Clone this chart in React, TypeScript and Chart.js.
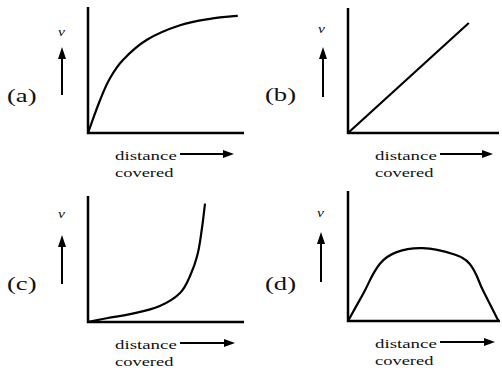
import React, { useEffect, useRef } from "react";
import { Chart, registerables } from "chart.js";

Chart.register(...registerables);

// Panel (a): velocity rising and saturating
const aX = [0, 0.77, 1.41, 2.24, 3.78, 5.9, 8.0, 9.6];
const aY = [0, 2.6, 4.35, 5.8, 7.4, 8.55, 9.1, 9.3];
// Panel (b): straight line
const bX = [0, 8.0];
const bY = [0, 8.8];
// Panel (c): rising steeply at the end
const cX = [0, 1.2, 2.7, 4.6, 5.9, 6.54, 7.0, 7.3, 7.5];
const cY = [0, 0.3, 0.63, 1.27, 2.3, 3.65, 5.25, 7.4, 9.4];
// Panel (d): rise, plateau, fall
const dX = [0, 1.0, 2.1, 3.2, 4.9, 6.9, 8.0, 8.9, 9.9];
const dY = [0, 2.1, 4.4, 5.3, 5.6, 5.15, 4.4, 2.3, 0];

const panelLabels = ["(a)", "(b)", "(c)", "(d)"];
const axisYLabel = "v";
const axisXLabel1 = "distance";
const axisXLabel2 = "covered";

type Box = { L: number; T: number; R: number; B: number };

const axesPlugin = {
  id: "axesLines",
  afterDatasetsDraw(chart: any) {
    const { ctx, chartArea } = chart;
    const xs = chart.scales.x;
    const ys = chart.scales.y;
    const x0 = xs.getPixelForValue(0);
    const y0 = ys.getPixelForValue(0);
    ctx.save();
    ctx.strokeStyle = "#000";
    ctx.lineWidth = 2.5;
    ctx.beginPath();
    ctx.moveTo(x0, chartArea.top);
    ctx.lineTo(x0, y0);
    ctx.lineTo(chartArea.right, y0);
    ctx.stroke();
    ctx.restore();
  },
};

function Panel({ box, xs, ys }: { box: Box; xs: number[]; ys: number[] }) {
  const ref = useRef<HTMLCanvasElement | null>(null);
  const pad = 6;
  const w = box.R - box.L + pad * 2;
  const h = box.B - box.T + pad * 2;
  useEffect(() => {
    if (!ref.current) return;
    const chart = new Chart(ref.current, {
      type: "line",
      data: {
        datasets: [
          {
            data: xs.map((x, i) => ({ x, y: ys[i] })),
            borderColor: "#000",
            borderWidth: 2.2,
            pointRadius: 0,
            tension: 0.4,
            fill: false,
            clip: false as any,
          },
        ],
      },
      options: {
        animation: false,
        responsive: false,
        maintainAspectRatio: false,
        layout: { padding: pad },
        plugins: { legend: { display: false }, tooltip: { enabled: false } },
        scales: {
          x: { type: "linear", min: 0, max: 10, display: false },
          y: { type: "linear", min: 0, max: 10, display: false },
        },
      },
      plugins: [axesPlugin],
    });
    return () => chart.destroy();
  }, []);
  return (
    <canvas
      ref={ref}
      width={w}
      height={h}
      style={{ position: "absolute", left: box.L - pad, top: box.T - pad, width: w, height: h }}
    />
  );
}

const serif = "'Liberation Serif', 'Times New Roman', serif";

function Txt({ text, left, top, size, sx, italic }: { text: string; left: number; top: number; size: number; sx: number; italic?: boolean }) {
  return (
    <div
      style={{
        position: "absolute",
        left,
        top,
        fontFamily: serif,
        fontSize: size,
        lineHeight: 1,
        fontStyle: italic ? "italic" : "normal",
        color: "#111",
        whiteSpace: "nowrap",
        transform: `scaleX(${sx})`,
        transformOrigin: "left top",
      }}
    >
      {text}
    </div>
  );
}

function UpArrow({ x, tip, bottom }: { x: number; tip: number; bottom: number }) {
  return (
    <>
      <div style={{ position: "absolute", left: x - 1, top: tip + 10, width: 2, height: bottom - tip - 10, background: "#000" }} />
      <div
        style={{
          position: "absolute",
          left: x - 4.5,
          top: tip,
          width: 0,
          height: 0,
          borderLeft: "4.5px solid transparent",
          borderRight: "4.5px solid transparent",
          borderBottom: "12px solid #000",
        }}
      />
    </>
  );
}

function RightArrow({ y, x1, x2 }: { y: number; x1: number; x2: number }) {
  return (
    <>
      <div style={{ position: "absolute", left: x1, top: y - 1, width: x2 - x1 - 10, height: 2, background: "#000" }} />
      <div
        style={{
          position: "absolute",
          left: x2 - 11,
          top: y - 4.5,
          width: 0,
          height: 0,
          borderTop: "4.5px solid transparent",
          borderBottom: "4.5px solid transparent",
          borderLeft: "11px solid #000",
        }}
      />
    </>
  );
}

const boxes: Box[] = [
  { L: 88, T: 7, R: 244, B: 133 },
  { L: 348, T: 8, R: 499, B: 133 },
  { L: 88, T: 196, R: 244, B: 322 },
  { L: 348, T: 191, R: 500, B: 321 },
];

export default function App() {
  const series = [
    [aX, aY],
    [bX, bY],
    [cX, cY],
    [dX, dY],
  ];
  const labelPos = [
    { left: 7, top: 86 },
    { left: 265, top: 85 },
    { left: 7, top: 274 },
    { left: 265, top: 274 },
  ];
  const vPos = [
    { left: 58, top: 26 },
    { left: 318, top: 23 },
    { left: 58, top: 208 },
    { left: 317, top: 207 },
  ];
  const upArrows = [
    { x: 62, tip: 47, bottom: 95 },
    { x: 323, tip: 47, bottom: 97 },
    { x: 62, tip: 235, bottom: 284 },
    { x: 321, tip: 232, bottom: 282 },
  ];
  const rightArrows = [
    { y: 154, x1: 180, x2: 234 },
    { y: 154, x1: 440, x2: 493 },
    { y: 343, x1: 180, x2: 235 },
    { y: 342, x1: 440, x2: 495 },
  ];
  const distPos = [
    { left: 115, top: 149, top2: 166 },
    { left: 375, top: 149, top2: 166 },
    { left: 115, top: 338, top2: 355 },
    { left: 375, top: 337, top2: 354 },
  ];
  return (
    <div style={{ position: "absolute", left: 0, top: 0, width: 502, height: 373, background: "#fff", overflow: "hidden" }}>
      {boxes.map((b, i) => (
        <Panel key={"p" + i} box={b} xs={series[i][0]} ys={series[i][1]} />
      ))}
      {panelLabels.map((t, i) => (
        <Txt key={"l" + i} text={t} left={labelPos[i].left} top={labelPos[i].top} size={19} sx={1.4} />
      ))}
      {vPos.map((p, i) => (
        <Txt key={"v" + i} text={axisYLabel} left={p.left} top={p.top} size={12} sx={1.3} italic />
      ))}
      {upArrows.map((a, i) => (
        <UpArrow key={"u" + i} {...a} />
      ))}
      {rightArrows.map((a, i) => (
        <RightArrow key={"r" + i} {...a} />
      ))}
      {distPos.map((p, i) => (
        <React.Fragment key={"d" + i}>
          <Txt text={axisXLabel1} left={p.left} top={p.top} size={13} sx={1.45} />
          <Txt text={axisXLabel2} left={p.left} top={p.top2} size={13} sx={1.42} />
        </React.Fragment>
      ))}
    </div>
  );
}
